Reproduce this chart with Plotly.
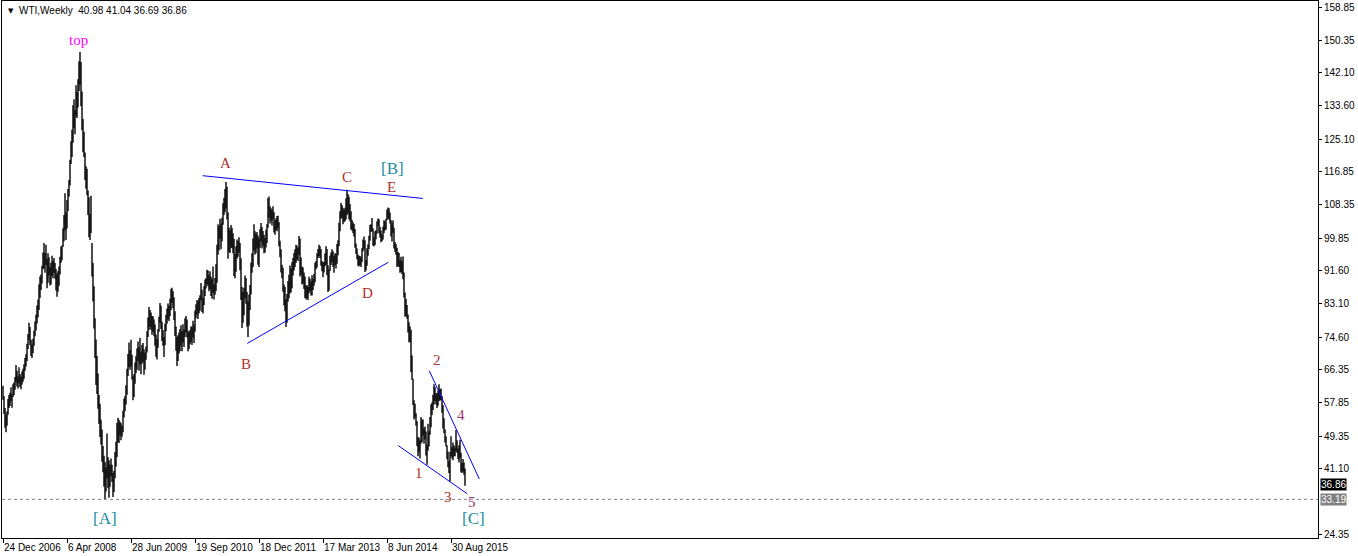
import plotly.graph_objects as go

# ---------------- data ----------------
tick_bars = [0, 64, 128, 192, 256, 320, 384, 448]
tick_labels = ["24 Dec 2006", "6 Apr 2008", "28 Jun 2009", "19 Sep 2010",
               "18 Dec 2011", "17 Mar 2013", "8 Jun 2014", "30 Aug 2015"]
price_ticks = [158.85, 150.35, 142.10, 133.60, 125.10, 116.85, 108.35, 99.85,
               91.60, 83.10, 74.60, 66.35, 57.85, 49.35, 41.10, 24.35]

week_low = [
    58.6, 55.0, 51.5, 50.3, 52.0, 54.8, 56.5, 57.0, 58.2, 56.6,
    59.3, 59.8, 61.2, 63.0, 62.0, 61.5, 62.8, 61.9, 61.3, 62.5,
    63.2, 64.0, 66.0, 67.1, 68.5, 71.6, 73.8, 72.5, 69.8, 69.3,
    70.5, 72.4, 74.8, 76.3, 78.1, 79.6, 81.5, 84.6, 86.6, 88.3,
    91.9, 92.1, 91.0, 93.0, 87.1, 88.5, 90.3, 87.8, 88.0, 90.2,
    89.6, 91.0, 89.5, 86.5, 84.9, 86.2, 87.7, 90.6, 93.6, 94.2,
    97.6, 99.1, 101.8, 99.4, 102.3, 106.8, 110.4, 113.3, 118.8, 120.6,
    124.2, 128.0, 126.4, 131.0, 130.5, 133.2, 137.4, 139.0, 133.5, 127.4,
    121.8, 120.6, 114.7, 112.5, 110.8, 105.8, 100.1, 99.4, 101.2, 90.1,
    83.7, 76.8, 69.3, 62.4, 60.1, 56.3, 52.4, 49.1, 47.2, 42.8,
    40.1, 36.4, 33.19, 35.2, 38.6, 36.0, 33.6, 36.4, 39.0, 37.6,
    33.8, 35.1, 38.6, 41.6, 44.0, 47.8, 47.6, 49.5, 48.3, 49.2,
    50.3, 54.1, 55.7, 57.4, 59.9, 64.7, 66.9, 66.3, 67.1, 63.8,
    58.5, 59.3, 62.7, 65.4, 66.3, 68.5, 66.0, 67.6, 65.1, 67.8,
    68.2, 65.0, 66.3, 68.8, 70.7, 74.6, 76.4, 77.2, 76.5, 75.2,
    76.0, 74.8, 72.4, 69.6, 68.9, 71.9, 76.0, 78.3, 76.7, 73.6,
    72.4, 69.5, 72.6, 76.1, 78.0, 79.1, 78.7, 80.0, 81.5, 83.4,
    82.0, 79.0, 74.9, 71.1, 67.2, 68.5, 70.4, 71.0, 72.4, 71.0,
    73.2, 72.1, 74.6, 75.8, 74.5, 71.0, 71.6, 72.8, 73.3, 72.6,
    74.5, 73.1, 76.0, 79.4, 80.3, 79.2, 80.7, 81.3, 84.0, 81.0,
    80.6, 82.8, 85.1, 87.0, 88.1, 87.6, 86.3, 86.8, 85.1, 84.4,
    85.9, 84.2, 85.4, 86.4, 88.5, 95.6, 96.7, 99.8, 97.0, 99.1,
    103.3, 105.8, 106.5, 107.4, 104.6, 94.6, 96.3, 96.1, 97.4, 97.3,
    96.0, 90.2, 89.6, 91.3, 94.6, 95.1, 96.2, 91.7, 84.1, 76.9,
    78.3, 80.2, 84.5, 83.1, 77.3, 74.6, 77.5, 81.5, 85.5, 91.0,
    92.5, 96.7, 95.7, 96.0, 97.2, 93.1, 92.5, 97.4, 99.0, 97.2,
    98.0, 96.0, 96.2, 97.5, 98.6, 102.5, 105.1, 103.6, 104.3, 103.1,
    104.6, 101.3, 100.7, 101.9, 101.6, 102.4, 97.8, 95.0, 91.1, 89.6,
    86.2, 82.7, 81.2, 77.2, 78.3, 83.6, 84.5, 85.8, 86.0, 87.1,
    90.3, 91.6, 92.5, 93.5, 94.4, 94.0, 95.6, 90.1, 90.5, 88.0,
    88.3, 86.9, 84.6, 84.2, 84.5, 84.1, 85.8, 86.4, 85.2, 85.2,
    86.6, 87.7, 88.6, 91.9, 92.4, 94.8, 95.3, 94.8, 92.8, 91.4,
    89.9, 91.1, 92.7, 93.1, 90.4, 86.1, 86.5, 91.5, 93.0, 93.7,
    92.5, 91.0, 93.0, 92.1, 93.3, 95.5, 97.8, 101.6, 104.8, 105.0,
    103.4, 103.9, 104.2, 104.6, 105.8, 106.2, 104.7, 104.2, 102.1, 101.8,
    101.2, 100.3, 97.4, 95.8, 94.5, 92.8, 92.6, 93.0, 92.5, 93.8,
    96.5, 97.1, 91.2, 91.6, 92.8, 95.4, 97.1, 99.2, 101.4, 101.6,
    98.0, 97.7, 98.1, 99.6, 101.0, 102.9, 101.1, 100.0, 98.8, 99.1,
    99.5, 101.2, 101.9, 102.0, 104.4, 104.8, 104.6, 103.6, 100.3, 99.0,
    101.2, 97.2, 96.4, 95.6, 92.5, 92.8, 92.5, 91.0, 91.2, 90.7,
    89.4, 84.7, 79.8, 80.0, 79.3, 75.8, 73.3, 73.3, 65.7, 63.7,
    57.3, 53.6, 54.1, 52.0, 46.8, 44.2, 45.2, 43.6, 47.4, 47.8,
    49.5, 47.4, 48.5, 44.4, 42.0, 45.6, 46.7, 49.7, 51.6, 54.7,
    56.0, 57.4, 58.3, 57.4, 56.5, 57.1, 58.3, 58.4, 58.5, 55.3,
    51.3, 50.1, 47.7, 46.7, 43.4, 41.4, 39.9, 37.75, 44.2, 43.6,
    43.2, 44.2, 44.2, 45.4, 45.1, 43.5, 42.6, 43.8, 40.1, 39.9,
    40.3, 39.5, 36.69,
]

week_high = [
    62.2, 59.5, 56.5, 54.9, 55.6, 58.8, 59.8, 60.4, 61.8, 60.0,
    62.6, 63.0, 64.4, 67.5, 66.0, 64.6, 66.9, 65.2, 64.5, 65.8,
    66.5, 67.7, 69.3, 70.2, 72.9, 75.4, 78.3, 77.2, 73.9, 72.7,
    74.2, 76.3, 78.6, 80.3, 82.7, 84.2, 88.1, 90.1, 90.6, 92.8,
    96.2, 98.6, 96.1, 98.2, 94.6, 96.0, 95.0, 92.5, 93.6, 95.4,
    94.1, 94.8, 93.5, 92.0, 90.8, 91.4, 92.6, 95.1, 97.7, 98.0,
    102.4, 105.8, 111.3, 106.5, 109.6, 112.4, 114.7, 119.9, 124.6, 127.5,
    133.8, 135.3, 132.6, 138.9, 137.2, 140.4, 145.0, 147.4, 144.8, 137.3,
    130.3, 127.0, 121.7, 118.2, 117.6, 112.0, 110.3, 106.0, 110.7, 98.6,
    93.5, 87.6, 79.4, 74.0, 69.8, 65.3, 59.8, 57.6, 53.5, 51.0,
    46.8, 44.3, 42.7, 41.4, 50.0, 44.0, 43.2, 42.1, 43.6, 42.0,
    39.9, 40.5, 45.3, 47.9, 52.7, 54.0, 53.5, 53.0, 52.6, 51.9,
    55.8, 58.9, 59.6, 62.3, 66.5, 70.3, 73.2, 71.3, 73.9, 70.1,
    64.6, 65.2, 68.1, 69.8, 71.7, 73.5, 72.0, 74.4, 70.9, 72.6,
    73.1, 71.5, 70.7, 72.2, 76.1, 79.6, 82.3, 81.5, 80.9, 80.0,
    79.9, 79.1, 77.8, 75.3, 74.1, 76.7, 79.8, 83.3, 82.6, 78.5,
    76.4, 74.6, 78.0, 80.3, 81.9, 83.2, 82.6, 84.4, 86.9, 87.2,
    86.3, 84.8, 81.2, 77.3, 74.6, 75.1, 75.8, 76.7, 77.6, 76.1,
    77.9, 76.5, 79.4, 80.0, 79.1, 76.2, 75.9, 76.4, 77.4, 77.1,
    78.8, 77.9, 81.4, 83.0, 84.1, 83.8, 84.6, 85.3, 88.4, 86.7,
    84.6, 87.6, 89.3, 89.6, 91.8, 91.6, 90.5, 91.4, 90.0, 89.5,
    92.6, 88.1, 89.7, 93.2, 98.2, 103.4, 102.9, 104.8, 103.6, 105.1,
    108.8, 110.2, 112.4, 114.2, 113.0, 106.5, 102.6, 101.9, 103.2, 102.5,
    101.1, 99.7, 95.8, 97.8, 99.5, 99.1, 100.1, 98.6, 94.7, 87.4,
    86.2, 87.2, 90.3, 89.7, 86.1, 83.7, 85.5, 87.9, 93.6, 96.0,
    99.8, 103.4, 101.6, 101.0, 101.4, 100.5, 99.8, 102.2, 103.7, 102.7,
    101.7, 100.7, 99.9, 102.0, 103.4, 110.1, 110.5, 108.0, 107.5, 107.1,
    108.0, 106.5, 104.4, 104.9, 105.5, 105.6, 104.0, 99.2, 97.0, 93.1,
    92.3, 88.0, 87.4, 84.3, 85.6, 88.9, 90.5, 92.9, 92.1, 93.7,
    94.8, 96.1, 97.0, 98.2, 97.9, 97.4, 100.4, 99.8, 94.9, 92.6,
    92.4, 91.1, 90.1, 87.7, 87.9, 87.4, 90.0, 89.5, 88.8, 90.4,
    89.5, 90.7, 93.6, 94.0, 96.0, 97.1, 98.2, 97.8, 97.0, 94.0,
    93.7, 93.8, 96.0, 97.8, 97.1, 92.9, 91.8, 95.4, 96.2, 97.0,
    96.5, 95.3, 96.0, 95.8, 98.4, 99.3, 103.8, 106.7, 108.9, 108.3,
    107.6, 107.1, 107.6, 110.0, 112.2, 111.1, 110.4, 108.6, 106.7, 104.5,
    103.9, 103.5, 102.2, 98.5, 97.2, 95.7, 95.4, 95.3, 95.0, 97.3,
    99.5, 100.3, 99.3, 94.3, 97.3, 98.3, 100.5, 103.2, 103.4, 105.0,
    102.3, 100.0, 101.6, 101.9, 104.2, 104.9, 104.7, 102.8, 101.8, 100.8,
    102.8, 104.4, 104.1, 104.8, 107.2, 107.7, 107.5, 106.4, 104.5, 103.8,
    104.4, 102.5, 98.9, 98.4, 97.4, 96.3, 96.1, 94.2, 95.1, 94.0,
    95.2, 91.1, 86.0, 84.3, 82.8, 80.4, 78.4, 77.3, 76.5, 69.9,
    64.0, 58.5, 57.6, 55.2, 53.1, 49.1, 48.9, 48.3, 54.2, 53.6,
    53.6, 51.3, 51.8, 50.5, 47.1, 52.5, 50.6, 54.2, 57.4, 57.9,
    59.9, 62.6, 61.9, 60.3, 60.3, 61.0, 62.6, 61.3, 61.5, 59.6,
    57.2, 53.9, 51.1, 49.3, 47.0, 45.4, 43.0, 45.3, 49.3, 46.5,
    47.7, 47.0, 46.4, 50.9, 48.3, 46.2, 47.0, 48.4, 45.1, 42.5,
    43.5, 42.6, 41.04,
]

last_ohlc = [40.98, 41.04, 36.69, 36.86]
lowest_low = 33.19

# wave labels: text, bar index, price, colour, size
wave_labels = [
    ("top", 75, 150.4, "#FF00FF", 15),
    ("[A]", 102, 28.2, "#1A8FA0", 17),
    ("A", 222, 119.0, "#B0302A", 15),
    ("B", 243, 67.7, "#B0302A", 15),
    ("C", 344, 115.5, "#B0302A", 15),
    ("D", 364, 85.9, "#B0302A", 15),
    ("E", 388, 112.9, "#B0302A", 15),
    ("[B]", 389, 117.6, "#1A8FA0", 17),
    ("1", 416, 39.9, "#B0302A", 15),
    ("2", 434, 68.8, "#B0302A", 15),
    ("3", 445, 33.7, "#B0302A", 15),
    ("4", 458, 54.7, "#A0306A", 15),
    ("5", 469, 32.4, "#A0306A", 15),
    ("[C]", 470, 28.4, "#1A8FA0", 17),
]

# trend lines: (bar0, price0, bar1, price1)
trend_lines = [
    (199.7, 115.8, 419.7, 110.0),
    (244.3, 73.0, 385.3, 93.7),
    (426.3, 66.0, 476.3, 38.4),
    (395.3, 46.9, 464.3, 34.6),
]

# ---------------- figure ----------------
n = min(len(week_low), len(week_high))
bx, by = [], []
for i in range(n):
    bx += [i, i, None]
    by += [week_low[i], week_high[i], None]

fig = go.Figure()
fig.add_trace(go.Scatter(x=bx, y=by, mode="lines",
                         line=dict(color="black", width=1.4),
                         hoverinfo="skip", showlegend=False))

for (x0, y0, x1, y1) in trend_lines:
    fig.add_trace(go.Scatter(x=[x0, x1], y=[y0, y1], mode="lines",
                             line=dict(color="#0000FF", width=1),
                             hoverinfo="skip", showlegend=False))

fig.add_shape(type="line", xref="paper", x0=0, x1=1, yref="y",
              y0=lowest_low, y1=lowest_low,
              line=dict(color="#808080", width=1, dash="3px,3px"))

tick_font = dict(family="Liberation Sans, Arial, sans-serif", size=10, color="#000000")

for (txt, bi, pr, col, sz) in wave_labels:
    fig.add_annotation(x=bi, y=pr, text=txt, showarrow=False,
                       font=dict(family="Liberation Serif, Times New Roman, serif",
                                 size=sz, color=col),
                       xanchor="center", yanchor="middle")

# header
fig.add_annotation(xref="paper", yref="paper", x=0, y=1, xshift=4, yshift=-4,
                   text="\u25BC", showarrow=False, xanchor="left", yanchor="top",
                   font=dict(family="DejaVu Sans", size=7, color="#000000"))
fig.add_annotation(xref="paper", yref="paper", x=0, y=1, xshift=15, yshift=-2,
                   text="WTI,Weekly  " + " ".join(f"{v:.2f}" for v in last_ohlc),
                   showarrow=False, xanchor="left", yanchor="top",
                   font=tick_font)

# price boxes on the axis
fig.add_annotation(xref="paper", yref="y", x=1, y=last_ohlc[3], xshift=2,
                   text=f"{last_ohlc[3]:.2f}", showarrow=False, xanchor="left",
                   yanchor="middle", bgcolor="#000000", borderpad=0,
                   font=dict(family=tick_font["family"], size=10, color="#FFFFFF"))
fig.add_annotation(xref="paper", yref="y", x=1, y=lowest_low, xshift=2,
                   text=f"{lowest_low:.2f}", showarrow=False, xanchor="left",
                   yanchor="middle", bgcolor="#808080", borderpad=0,
                   font=dict(family=tick_font["family"], size=10, color="#FFFFFF"))

fig.update_layout(
    width=1358, height=556,
    margin=dict(l=2, r=40, t=1, b=18, autoexpand=False),
    paper_bgcolor="white", plot_bgcolor="white",
    showlegend=False,
    xaxis=dict(range=[-1, 1315], tickvals=tick_bars, ticktext=tick_labels,
               ticks="outside", ticklen=4, tickcolor="black", tickangle=0,
               ticklabelposition="outside right", tickfont=tick_font,
               automargin=False,
               showgrid=False, zeroline=False, showline=True, mirror=True,
               linecolor="black", linewidth=1),
    yaxis=dict(range=[23.33, 160.39], side="right", tickvals=price_ticks,
               ticktext=[f"{v:.2f}" for v in price_ticks], automargin=False,
               ticks="outside", ticklen=3, tickcolor="black", tickfont=tick_font,
               showgrid=False, zeroline=False, showline=True, mirror=True,
               linecolor="black", linewidth=1),
)

fig.write_html("out.html",
               config={"displayModeBar": False},
               post_script="document.body.style.margin='0';"
                           "document.body.style.overflow='hidden';")
